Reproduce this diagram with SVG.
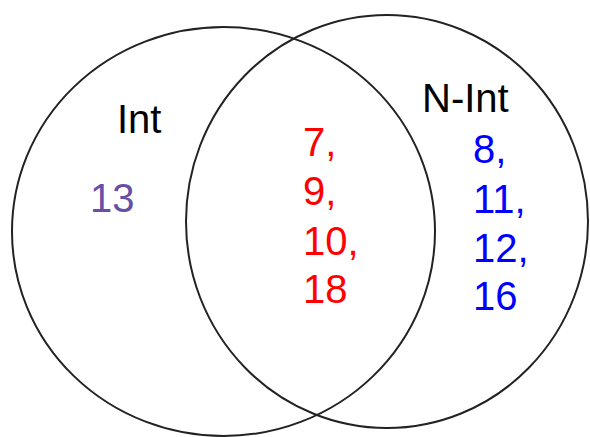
<svg xmlns="http://www.w3.org/2000/svg" width="590" height="437" viewBox="0 0 590 437">
<style>
.c{fill:none;stroke:#222;stroke-width:2}
text{font-family:"Liberation Sans",Arial,sans-serif;font-size:40px}
.k{fill:#000}.p{fill:#674ea7}.r{fill:#ff0000}.b{fill:#0000ff}
</style>
<rect width="590" height="437" fill="#fff"/>
<g id="int-set"><ellipse class="c" cx="223.5" cy="231.5" rx="211.5" ry="204.5"/>
<text class="k" x="117" y="133">Int</text>
<text class="p" x="90" y="212">13</text></g>
<g id="nint-set"><ellipse class="c" cx="387" cy="221.5" rx="201" ry="206.5"/>
<text class="k" x="422" y="112">N-Int</text>
<text class="b" x="473" y="163">8,</text>
<text class="b" x="473" y="213">11,</text>
<text class="b" x="473" y="262">12,</text>
<text class="b" x="473" y="310">16</text></g>
<g id="both"><text class="r" x="303" y="156">7,</text>
<text class="r" x="303" y="205">9,</text>
<text class="r" x="303" y="255">10,</text>
<text class="r" x="303" y="303">18</text></g>
<g id="connectors"/>
</svg>
